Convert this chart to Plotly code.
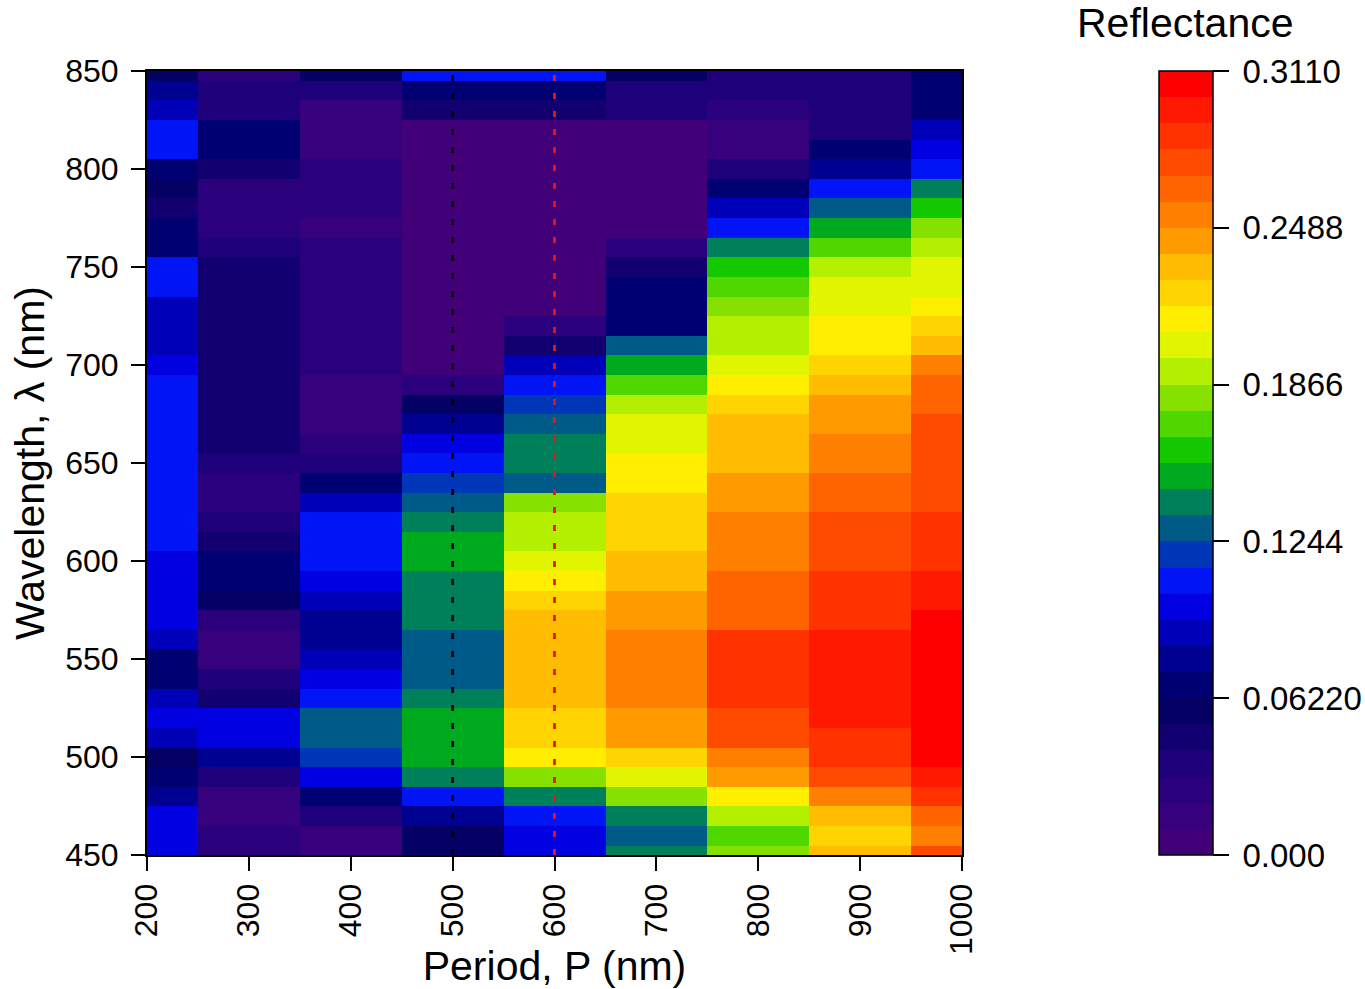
import plotly.graph_objects as go

# Grating period (nm) and wavelength (nm) grids
periods = [200, 300, 400, 500, 600, 700, 800, 900, 1000]
wavelengths = [850, 840, 830, 820, 810, 800, 790, 780, 770, 760,
               750, 740, 730, 720, 710, 700, 690, 680, 670, 660,
               650, 640, 630, 620, 610, 600, 590, 580, 570, 560,
               550, 540, 530, 520, 510, 500, 490, 480, 470, 460, 450]

# Reflectance spectra, one list per period, ordered from 850 nm down to 450 nm
refl_p200 = [.057, .078, .088, .109, .109, .067, .057, .047, .067, .067,
             .109, .109, .088, .088, .088, .098, .109, .109, .109, .109,
             .109, .109, .109, .109, .109, .098, .098, .098, .098, .088,
             .067, .067, .088, .098, .088, .057, .067, .078, .098, .098, .098]
refl_p300 = [.026, .036, .036, .067, .067, .047, .026, .026, .026, .036,
             .047, .047, .047, .047, .047, .047, .047, .047, .047, .047,
             .036, .026, .026, .036, .047, .067, .067, .057, .026, .016,
             .016, .036, .047, .098, .098, .078, .036, .016, .016, .026, .026]
refl_p400 = [.057, .036, .016, .016, .016, .026, .026, .026, .016, .026,
             .026, .026, .026, .026, .026, .026, .016, .016, .016, .026,
             .036, .067, .088, .109, .109, .109, .098, .088, .078, .078,
             .088, .098, .109, .130, .130, .119, .098, .067, .036, .016, .016]
refl_p500 = [.109, .067, .047, .005, .005, .005, .005, .005, .005, .005,
             .005, .005, .005, .005, .005, .005, .026, .057, .078, .098,
             .109, .119, .130, .140, .150, .150, .140, .140, .140, .130,
             .130, .130, .140, .150, .150, .150, .140, .109, .078, .057, .057]
refl_p600 = [.109, .067, .047, .000, .005, .005, .005, .005, .005, .005,
             .005, .005, .005, .026, .047, .088, .109, .119, .130, .140,
             .140, .130, .181, .192, .192, .202, .213, .223, .233, .233,
             .233, .233, .233, .223, .223, .213, .181, .140, .109, .098, .098]
refl_p700 = [.057, .036, .036, .005, .005, .005, .005, .005, .005, .026,
             .047, .067, .067, .067, .130, .150, .171, .192, .202, .202,
             .213, .213, .223, .223, .223, .233, .233, .244, .244, .254,
             .254, .254, .254, .244, .244, .223, .202, .181, .140, .130, .140]
refl_p800 = [.036, .036, .026, .016, .016, .036, .067, .088, .109, .140,
             .161, .171, .181, .192, .192, .202, .213, .223, .233, .233,
             .233, .244, .244, .254, .254, .254, .264, .264, .264, .285,
             .285, .285, .285, .275, .275, .254, .244, .213, .192, .171, .181]
refl_p900 = [.036, .036, .036, .036, .067, .078, .109, .130, .150, .171,
             .192, .202, .202, .213, .213, .223, .233, .244, .244, .254,
             .254, .264, .264, .275, .275, .275, .285, .285, .285, .295,
             .295, .295, .295, .295, .285, .285, .275, .254, .233, .223, .233]
refl_p1000 = [.067, .067, .067, .088, .098, .109, .140, .161, .181, .192,
              .202, .202, .213, .223, .233, .254, .264, .264, .275, .275,
              .275, .275, .275, .285, .285, .285, .295, .295, .306, .306,
              .311, .306, .306, .306, .306, .306, .295, .285, .264, .254, .275]

columns = [refl_p200, refl_p300, refl_p400, refl_p500, refl_p600,
           refl_p700, refl_p800, refl_p900, refl_p1000]
z = [list(row) for row in zip(*columns)]

# Colour bar scale
cbar_min, cbar_max = 0.0, 0.3110
cbar_tickvals = [0.0, 0.0622, 0.1244, 0.1866, 0.2488, 0.3110]
cbar_ticktext = ["0.000", "0.06220", "0.1244", "0.1866", "0.2488", "0.3110"]

# 30-level stepped palette, purple -> blue -> green -> yellow -> red
band_colors = [
    "#420078", "#37007D", "#2A007D", "#1E007A", "#120070", "#050064",
    "#000073", "#000091", "#0000B9", "#0000E1", "#0014F5", "#0037B9",
    "#005A87", "#00805A", "#00AA1E", "#14C800", "#50D700", "#87E100",
    "#B4EE00", "#E1F500", "#FFEE00", "#FFD400", "#FFBC00", "#FF9B00",
    "#FF8000", "#FF6400", "#FF4B00", "#FF3200", "#FF1900", "#FF0000",
]
n = len(band_colors)
colorscale = []
for i, c in enumerate(band_colors):
    colorscale.append([i / n, c])
    colorscale.append([(i + 1) / n, c])

FONT = "Liberation Sans, Arial, sans-serif"

fig = go.Figure()
fig.add_trace(go.Heatmap(
    x=periods, y=wavelengths, z=z,
    zmin=cbar_min, zmax=cbar_max,
    colorscale=colorscale,
    colorbar=dict(
        x=1.2417, xanchor="left", xref="paper",
        y=0.5, yanchor="middle", len=1.0, lenmode="fraction",
        thickness=54, outlinecolor="black", outlinewidth=1.5,
        tickvals=cbar_tickvals,
        ticktext=["\u2009" + t for t in cbar_ticktext],
        ticks="outside", ticklen=16, tickwidth=2, tickcolor="black",
        tickfont=dict(family=FONT, size=33, color="black"),
        ypad=0, xpad=0,
    ),
    hoverinfo="skip",
))

# Dotted markers at P = 500 nm and P = 600 nm
fig.add_trace(go.Scatter(
    x=[500, 500], y=[450, 850], mode="lines",
    line=dict(color="black", width=2.8, dash="6px,12px"),
    showlegend=False, hoverinfo="skip",
))
fig.add_trace(go.Scatter(
    x=[600, 600], y=[450, 850], mode="lines",
    line=dict(color="#E8141E", width=2.8, dash="6px,12px"),
    showlegend=False, hoverinfo="skip",
))

axis_common = dict(
    showline=True, linecolor="black", linewidth=2, mirror=True,
    ticks="outside", ticklen=14, tickwidth=2, tickcolor="black",
    showgrid=False, zeroline=False, automargin=False,
    tickfont=dict(family=FONT, size=32, color="black"),
)

fig.update_layout(
    width=1365, height=989,
    margin=dict(l=147, r=403, t=71, b=134, autoexpand=False),
    paper_bgcolor="white", plot_bgcolor="white",
    showlegend=False,
    xaxis=dict(
        range=[200, 1000], tickvals=periods, tickangle=-90,
        ticklabelstandoff=0,
        title=dict(text="Period, P (nm)", standoff=4,
                   font=dict(family=FONT, size=41, color="black")),
        **axis_common,
    ),
    yaxis=dict(
        range=[450, 850], tickvals=[450, 500, 550, 600, 650, 700, 750, 800, 850],
        ticklabelstandoff=6,
        title=dict(text="Wavelength, λ (nm)", standoff=8,
                   font=dict(family=FONT, size=41, color="black")),
        **axis_common,
    ),
    annotations=[dict(
        text="Reflectance", xref="paper", yref="paper",
        x=1.2748, y=1.0612, xanchor="center", yanchor="middle",
        showarrow=False, font=dict(family=FONT, size=41, color="black"),
    )],
)

fig.write_html("out.html")
